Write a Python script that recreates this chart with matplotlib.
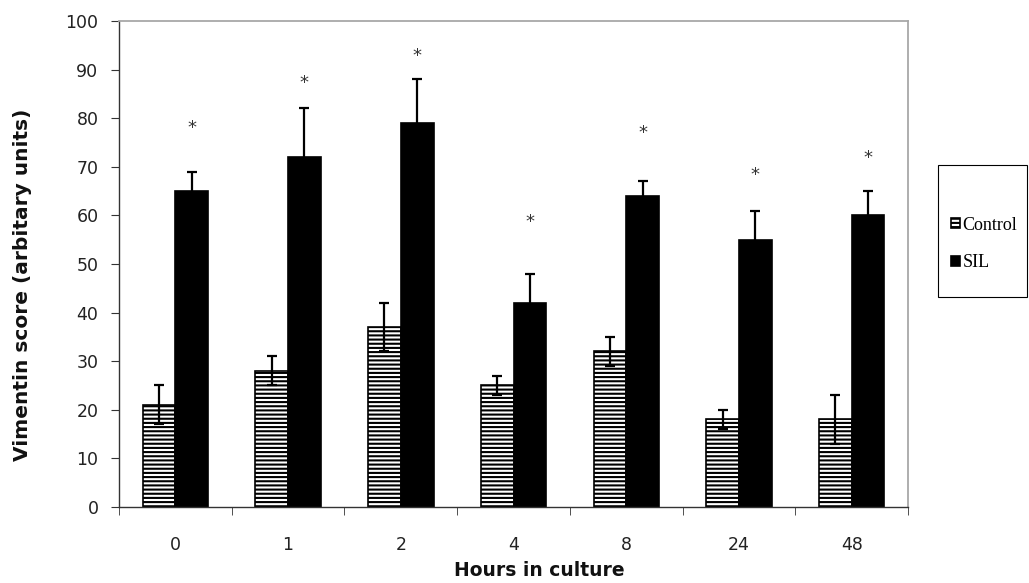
import numpy as np
import matplotlib
matplotlib.use("Agg")
import matplotlib.pyplot as plt
from matplotlib.patches import Rectangle

hours = ["0", "1", "2", "4", "8", "24", "48"]
control = [21, 28, 37, 25, 32, 18, 18]
control_err = [4, 3, 5, 2, 3, 2, 5]
sil = [65, 72, 79, 42, 64, 55, 60]
sil_err = [4, 10, 9, 6, 3, 6, 5]
star_y = [78, 87.3, 92.8, 58.6, 76.9, 68.3, 71.9]

plt.rcParams["hatch.linewidth"] = 1.5

fig = plt.figure(figsize=(10.29, 5.83), dpi=100)
ax = fig.add_axes([0.1157, 0.1304, 0.7667, 0.8336])

x = np.arange(len(hours))
w = 0.29
ax.bar(x - w / 2, control, w, color="white", edgecolor="black", linewidth=1.2,
       hatch="----", label="Control")
ax.bar(x + w / 2, sil, w, color="black", edgecolor="black", linewidth=1.2, label="SIL")
ax.errorbar(x - w / 2, control, yerr=control_err, fmt="none", ecolor="black",
            elinewidth=1.6, capsize=3.6, capthick=1.6)
ax.errorbar(x + w / 2, sil, yerr=sil_err, fmt="none", ecolor="black",
            elinewidth=1.6, capsize=3.6, capthick=1.6)
for xi, yi in zip(x + w / 2, star_y):
    ax.text(xi, yi, "*", ha="center", va="center", fontsize=13, color="#333333")

ax.set_xlim(-0.5, len(hours) - 0.5)
ax.set_ylim(0, 100)
ax.set_yticks(np.arange(0, 101, 10))
ax.set_xticks(x)
ax.set_xticklabels(hours)
ax.set_xticks(np.arange(-0.5, len(hours)), minor=True)
ax.tick_params(axis="x", which="major", length=0, pad=21, labelsize=12.5, labelcolor="#222222")
ax.tick_params(axis="x", which="minor", length=5.8, direction="out", color="#333333")
ax.tick_params(axis="y", length=5.8, direction="out", pad=9, labelsize=12.5,
               labelcolor="#222222", color="#333333")

for s in ["top", "right"]:
    ax.spines[s].set_color("#a8a8a8")
    ax.spines[s].set_linewidth(1.3)
for s in ["left", "bottom"]:
    ax.spines[s].set_color("#333333")
    ax.spines[s].set_linewidth(1.0)

fig.text(0.524, 0.012, "Hours in culture", ha="center", va="baseline",
         fontsize=13.5, fontweight="bold", color="#111111")
fig.text(0.0214, 0.511, "Vimentin score (arbitary units)", ha="center", va="center",
         rotation=90, fontsize=14.5, fontweight="bold", color="#111111")

fig.patches.append(Rectangle((0.9116, 0.4906), 0.0865, 0.2264, transform=fig.transFigure,
                             fill=False, edgecolor="black", linewidth=0.8))
fig.legend(loc="center left", bbox_to_anchor=(0.924, 0.5815), frameon=False,
           prop={"family": "Liberation Serif", "size": 13}, handlelength=0.5,
           handleheight=0.5, handletextpad=0.15, labelspacing=1.15, borderpad=0,
           borderaxespad=0)

fig.savefig("out.png", dpi=100)
